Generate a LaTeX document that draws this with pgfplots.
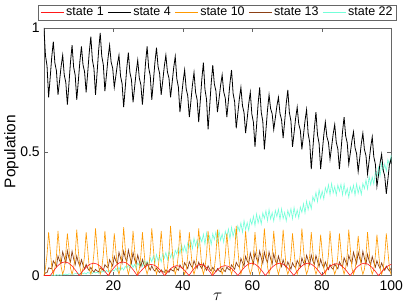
\documentclass[border=0pt]{standalone}
\usepackage{pgfplots}
\pgfplotsset{compat=1.18}
\usepackage{pgfplotstable}
\usepackage{fontspec}
\setmainfont{Liberation Sans}
\definecolor{cRed}{rgb}{1,0.1,0.1}
\definecolor{cOrange}{rgb}{1,0.6,0}
\definecolor{cBrown}{rgb}{0.55,0.25,0.08}
\definecolor{cCyan}{rgb}{0.45,1,0.85}
\definecolor{cAxis}{rgb}{0.4,0.4,0.4}

\pgfplotstableread{
t b o br c
0 1.000 0.000 0.000 0.000
0.45 0.888 0.030 0.011 0.000
0.9 0.846 0.085 0.012 0.001
1.35 0.720 0.175 0.031 0.000
1.8 0.799 0.105 0.029 0.002
2.25 0.882 0.035 0.027 0.001
2.7 0.945 0.005 0.059 0.003
3.15 0.859 0.030 0.049 0.000
3.6 0.827 0.080 0.037 0.004
4.05 0.730 0.180 0.079 0.001
4.5 0.786 0.100 0.060 0.004
4.95 0.845 0.035 0.050 0.001
5.4 0.890 0.005 0.096 0.005
5.85 0.810 0.025 0.073 0.003
6.3 0.780 0.090 0.051 0.006
6.75 0.690 0.170 0.100 0.003
7.2 0.774 0.110 0.071 0.007
7.65 0.863 0.030 0.055 0.005
8.1 0.930 0.005 0.098 0.007
8.55 0.842 0.030 0.068 0.005
9.0 0.809 0.085 0.044 0.008
9.45 0.710 0.185 0.079 0.007
9.9 0.785 0.100 0.053 0.010
10.35 0.865 0.035 0.038 0.005
10.8 0.925 0.005 0.064 0.013
11.25 0.851 0.030 0.042 0.007
11.7 0.823 0.080 0.026 0.011
12.15 0.740 0.175 0.045 0.006
12.6 0.819 0.105 0.029 0.013
13.05 0.902 0.030 0.020 0.009
13.5 0.965 0.005 0.033 0.014
13.95 0.871 0.030 0.021 0.008
14.4 0.836 0.090 0.014 0.016
14.85 0.730 0.190 0.025 0.010
15.3 0.818 0.110 0.019 0.014
15.75 0.910 0.035 0.015 0.009
16.2 0.980 0.005 0.031 0.017
16.65 0.886 0.030 0.027 0.013
17.1 0.851 0.085 0.020 0.019
17.55 0.745 0.180 0.044 0.013
18.0 0.810 0.100 0.036 0.021
18.45 0.878 0.030 0.031 0.015
18.9 0.930 0.005 0.064 0.020
19.35 0.862 0.025 0.051 0.015
19.8 0.837 0.080 0.038 0.023
20.25 0.760 0.170 0.078 0.018
20.7 0.806 0.100 0.059 0.030
21.15 0.854 0.030 0.048 0.017
21.6 0.890 0.005 0.094 0.033
22.05 0.806 0.030 0.071 0.022
22.5 0.775 0.090 0.050 0.032
22.95 0.680 0.195 0.099 0.022
23.4 0.757 0.110 0.072 0.037
23.85 0.838 0.035 0.056 0.030
24.3 0.900 0.005 0.103 0.042
24.75 0.820 0.030 0.074 0.029
25.2 0.790 0.085 0.050 0.049
25.65 0.700 0.180 0.093 0.032
26.1 0.760 0.105 0.064 0.045
26.55 0.822 0.030 0.048 0.029
27.0 0.870 0.005 0.083 0.051
27.45 0.798 0.025 0.057 0.040
27.9 0.771 0.080 0.036 0.056
28.35 0.690 0.175 0.065 0.037
28.8 0.772 0.100 0.043 0.061
29.25 0.859 0.030 0.031 0.044
29.7 0.925 0.005 0.052 0.058
30.15 0.839 0.030 0.035 0.038
30.6 0.807 0.090 0.022 0.071
31.05 0.710 0.190 0.039 0.055
31.5 0.784 0.110 0.025 0.079
31.95 0.861 0.035 0.018 0.050
32.4 0.920 0.005 0.030 0.085
32.85 0.844 0.030 0.020 0.059
33.3 0.816 0.085 0.012 0.078
33.75 0.730 0.180 0.023 0.055
34.2 0.786 0.100 0.016 0.087
34.65 0.845 0.030 0.013 0.070
35.1 0.890 0.005 0.023 0.093
35.55 0.822 0.030 0.018 0.064
36.0 0.797 0.090 0.013 0.098
36.45 0.720 0.200 0.026 0.072
36.9 0.778 0.110 0.021 0.092
37.35 0.839 0.035 0.018 0.069
37.8 0.885 0.005 0.035 0.102
38.25 0.795 0.030 0.028 0.087
38.7 0.761 0.085 0.021 0.113
39.15 0.660 0.185 0.043 0.087
39.6 0.720 0.105 0.032 0.124
40.05 0.782 0.030 0.027 0.097
40.5 0.830 0.005 0.052 0.121
40.95 0.754 0.025 0.040 0.093
41.4 0.726 0.080 0.028 0.132
41.85 0.640 0.175 0.056 0.113
42.3 0.703 0.100 0.041 0.142
42.75 0.770 0.030 0.032 0.108
43.2 0.820 0.005 0.060 0.151
43.65 0.740 0.030 0.044 0.119
44.1 0.710 0.090 0.029 0.144
44.55 0.620 0.190 0.054 0.116
45.0 0.704 0.110 0.038 0.155
45.45 0.793 0.035 0.028 0.136
45.9 0.860 0.005 0.049 0.167
46.35 0.752 0.030 0.033 0.126
46.8 0.712 0.085 0.021 0.172
47.25 0.590 0.180 0.039 0.133
47.7 0.681 0.100 0.026 0.159
48.15 0.777 0.030 0.019 0.125
48.6 0.850 0.005 0.033 0.169
49.05 0.774 0.030 0.023 0.145
49.5 0.746 0.085 0.015 0.176
49.95 0.660 0.185 0.028 0.135
50.4 0.713 0.105 0.020 0.181
50.85 0.768 0.030 0.015 0.142
51.3 0.810 0.005 0.030 0.168
51.75 0.742 0.025 0.022 0.134
52.2 0.717 0.080 0.016 0.179
52.65 0.640 0.170 0.034 0.156
53.1 0.707 0.100 0.026 0.188
53.55 0.777 0.030 0.022 0.148
54.0 0.830 0.005 0.043 0.195
54.45 0.736 0.030 0.034 0.158
54.9 0.701 0.090 0.025 0.187
55.35 0.595 0.200 0.053 0.155
55.8 0.653 0.110 0.041 0.201
56.25 0.714 0.035 0.034 0.179
56.7 0.760 0.005 0.069 0.213
57.15 0.686 0.030 0.053 0.174
57.6 0.658 0.085 0.038 0.222
58.05 0.575 0.180 0.078 0.185
58.5 0.633 0.100 0.059 0.214
58.95 0.694 0.030 0.048 0.182
59.4 0.740 0.005 0.091 0.228
59.85 0.652 0.025 0.067 0.206
60.3 0.619 0.080 0.047 0.240
60.75 0.520 0.175 0.093 0.201
61.2 0.604 0.100 0.068 0.249
61.65 0.693 0.030 0.053 0.212
62.1 0.760 0.005 0.099 0.241
62.55 0.660 0.030 0.072 0.208
63.0 0.623 0.090 0.049 0.253
63.45 0.510 0.190 0.095 0.230
63.9 0.587 0.110 0.068 0.262
64.35 0.668 0.035 0.053 0.221
64.8 0.730 0.005 0.095 0.267
65.25 0.674 0.030 0.068 0.228
65.7 0.653 0.085 0.046 0.254
66.15 0.590 0.180 0.088 0.220
66.6 0.636 0.100 0.060 0.263
67.05 0.684 0.030 0.046 0.238
67.5 0.720 0.005 0.079 0.268
67.95 0.654 0.030 0.055 0.225
68.4 0.629 0.085 0.036 0.270
68.85 0.555 0.185 0.064 0.230
69.3 0.623 0.105 0.043 0.255
69.75 0.695 0.030 0.032 0.220
70.2 0.750 0.005 0.055 0.263
70.65 0.658 0.025 0.039 0.239
71.1 0.624 0.080 0.026 0.270
71.55 0.520 0.170 0.051 0.229
72.0 0.576 0.100 0.038 0.275
72.45 0.635 0.030 0.032 0.237
72.9 0.680 0.005 0.061 0.265
73.35 0.612 0.030 0.048 0.232
73.8 0.587 0.090 0.034 0.277
74.25 0.510 0.190 0.071 0.255
74.7 0.566 0.110 0.053 0.290
75.15 0.625 0.035 0.043 0.252
75.6 0.670 0.005 0.082 0.301
76.05 0.574 0.025 0.062 0.266
76.5 0.538 0.080 0.043 0.298
76.95 0.430 0.175 0.083 0.269
77.4 0.511 0.100 0.059 0.319
77.85 0.596 0.030 0.045 0.300
78.3 0.660 0.005 0.081 0.336
78.75 0.568 0.025 0.057 0.298
79.2 0.534 0.080 0.036 0.347
79.65 0.430 0.165 0.066 0.312
80.1 0.497 0.095 0.044 0.341
80.55 0.567 0.030 0.032 0.309
81.0 0.620 0.005 0.055 0.355
81.45 0.560 0.030 0.037 0.333
81.9 0.538 0.085 0.024 0.367
82.35 0.470 0.180 0.044 0.326
82.8 0.519 0.100 0.031 0.372
83.25 0.571 0.030 0.025 0.333
83.7 0.610 0.005 0.047 0.359
84.15 0.538 0.025 0.036 0.325
84.6 0.511 0.080 0.027 0.366
85.05 0.430 0.170 0.055 0.340
85.5 0.504 0.100 0.043 0.369
85.95 0.581 0.030 0.036 0.325
86.4 0.640 0.005 0.072 0.369
86.85 0.564 0.030 0.056 0.328
87.3 0.536 0.085 0.040 0.352
87.75 0.450 0.185 0.081 0.316
88.2 0.496 0.105 0.061 0.358
88.65 0.544 0.030 0.049 0.334
89.1 0.580 0.005 0.094 0.365
89.55 0.516 0.025 0.070 0.324
90.0 0.492 0.075 0.049 0.370
90.45 0.420 0.160 0.094 0.332
90.9 0.474 0.095 0.068 0.360
91.35 0.532 0.030 0.053 0.327
91.8 0.575 0.005 0.098 0.372
92.25 0.509 0.025 0.070 0.351
92.7 0.484 0.080 0.046 0.386
93.15 0.410 0.175 0.086 0.349
93.6 0.463 0.100 0.059 0.400
94.05 0.518 0.030 0.044 0.366
94.5 0.560 0.005 0.077 0.398
94.95 0.480 0.025 0.053 0.369
95.4 0.450 0.080 0.034 0.419
95.85 0.360 0.165 0.060 0.400
96.3 0.406 0.095 0.041 0.437
96.75 0.454 0.030 0.029 0.401
97.2 0.490 0.005 0.051 0.453
97.65 0.426 0.025 0.034 0.420
98.1 0.402 0.080 0.021 0.451
98.55 0.330 0.170 0.038 0.421
99.0 0.388 0.100 0.027 0.468
99.45 0.449 0.030 0.018 0.447
99.9 0.470 0.005 0.029 0.482
100 0.450 0.006 0.025 0.460
}\data

\begin{document}
\fontsize{12}{14}\selectfont
\begin{tikzpicture}
\begin{axis}[
  name=ax,
  scale only axis,
  width=348pt, height=248pt,
  xmin=0, xmax=100, ymin=0, ymax=1,
  xtick={20,40,60,80,100},
  ytick={0,0.5,1},
  yticklabels={0,0.5,1},
  tick align=inside,
  major tick length=4pt,
  axis line style={draw=cAxis},
  tick style={draw=cAxis, line width=0.4pt},
  /pgf/number format/assume math mode=true,
  ticklabel style={font=\fontsize{14}{16}\selectfont},
  xticklabel style={yshift=-1pt},
  xlabel={$\tau$},
  xlabel style={at={(axis description cs:0.5,-0.085)}, anchor=center, font=\fontsize{16}{16}\selectfont},
  ylabel={Population},
  ylabel style={at={(axis description cs:-0.094,0.5)}, anchor=center, font=\fontsize{15.5}{16}\selectfont},
  legend columns=-1,
  legend image code/.code={\draw[#1] (0pt,0pt) -- (23pt,0pt);},
  legend style={at={(0.5,1)}, anchor=south, yshift=8pt, draw=cAxis,
    font=\fontsize{12.5}{14}\selectfont, inner xsep=2pt, inner ysep=0pt,
    nodes={inner xsep=2pt, inner ysep=2pt},
    /tikz/every even column/.append style={column sep=2pt}},
]
\addlegendimage{cRed, line width=0.6pt}
\addlegendentry{state 1}
\addlegendimage{black, line width=0.6pt}
\addlegendentry{state 4}
\addlegendimage{cOrange, line width=0.6pt}
\addlegendentry{state 10}
\addlegendimage{cBrown, line width=0.6pt}
\addlegendentry{state 13}
\addlegendimage{cCyan, line width=0.6pt}
\addlegendentry{state 22}

\addplot[cCyan, line width=0.6pt, forget plot] table[x=t, y=c] {\data};
\addplot[cBrown, line width=0.7pt, forget plot] table[x=t, y=br] {\data};
\addplot[cOrange, line width=0.6pt, forget plot] table[x=t, y=o] {\data};
\addplot[cRed, line width=0.6pt, forget plot] coordinates {
(0,0) (1.85,0) (2.89,0.021) (3.93,0.039) (4.96,0.051) (6.0,0.055) (7.04,0.051) (8.08,0.039) (9.11,0.021)
(10.15,0) (11.19,0.019) (12.24,0.035) (13.28,0.046) (14.33,0.05) (15.37,0.046) (16.41,0.035) (17.46,0.019)
(18.5,0) (19.54,0.021) (20.59,0.039) (21.63,0.051) (22.68,0.055) (23.72,0.051) (24.76,0.039) (25.81,0.021)
(26.85,0) (27.84,0.017) (28.83,0.032) (29.81,0.042) (30.8,0.045) (31.79,0.042) (32.78,0.032) (33.76,0.017)
(34.75,0) (35.63,0.015) (36.5,0.028) (37.38,0.037) (38.25,0.04) (39.13,0.037) (40.0,0.028) (40.88,0.015)
(41.75,0) (42.59,0.017) (43.44,0.032) (44.28,0.042) (45.13,0.045) (45.97,0.042) (46.81,0.032) (47.66,0.017)
(48.5,0) (49.42,0.015) (50.34,0.028) (51.26,0.037) (52.18,0.04) (53.09,0.037) (54.01,0.028) (54.93,0.015)
(55.85,0) (56.84,0.019) (57.83,0.035) (58.81,0.046) (59.8,0.05) (60.79,0.046) (61.78,0.035) (62.76,0.019)
(63.75,0) (64.77,0.019) (65.79,0.035) (66.81,0.046) (67.83,0.05) (68.84,0.046) (69.86,0.035) (70.88,0.019)
(71.9,0) (72.92,0.019) (73.94,0.035) (74.96,0.046) (75.98,0.05) (76.99,0.046) (78.01,0.035) (79.03,0.019)
(80.05,0) (81.06,0.018) (82.08,0.034) (83.09,0.044) (84.1,0.048) (85.11,0.044) (86.13,0.034) (87.14,0.018)
(88.15,0) (89.17,0.019) (90.19,0.035) (91.21,0.046) (92.23,0.05) (93.24,0.046) (94.26,0.035) (95.28,0.019)
(96.3,0) (97.33,0.017) (98.35,0.032) (99.38,0.042) (100,0.045)
};
\addplot[black, line width=0.8pt, forget plot] table[x=t, y=b] {\data};
\end{axis}
\useasboundingbox ([xshift=-44pt,yshift=-28pt]ax.south west) rectangle ([xshift=15pt,yshift=28pt]ax.north east);
\end{tikzpicture}
\end{document}
